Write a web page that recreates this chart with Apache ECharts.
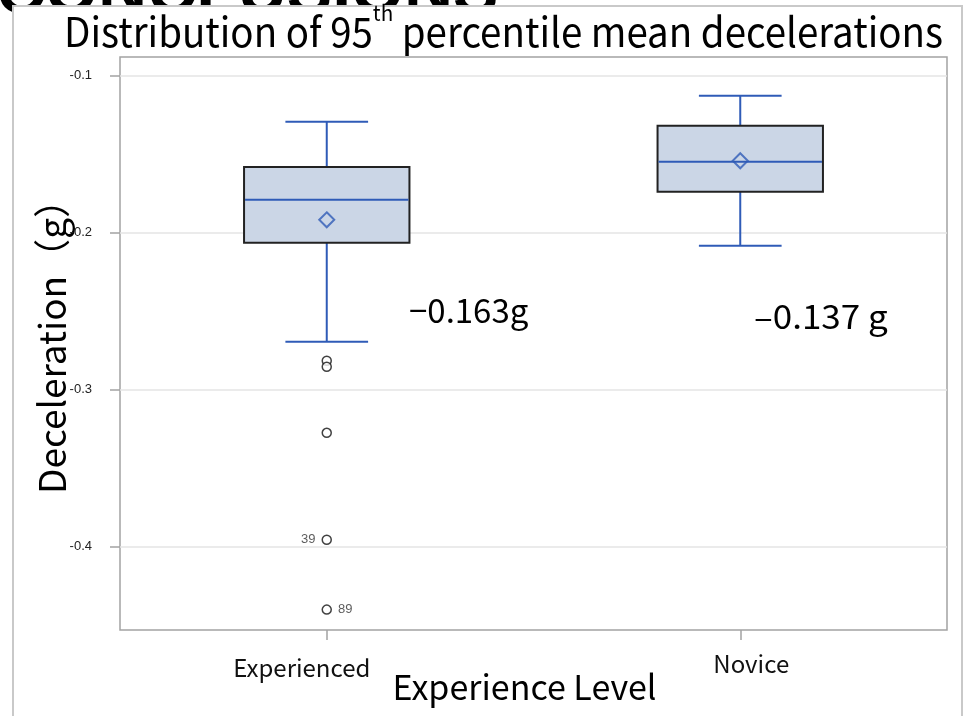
<!DOCTYPE html>
<html>
<head>
<meta charset="utf-8">
<script src="https://cdn.jsdelivr.net/npm/echarts@6/dist/echarts.min.js"></script>
<style>
  html, body { margin: 0; padding: 0; background: #fff; }
  #chart { width: 965px; height: 716px; }
</style>
</head>
<body>
<div id="chart"></div>
<script>
// Box statistics per experience group (g)
const categories = ['Experienced', 'Novice'];
const lowerWhisker = [-0.2694, -0.2083];
const lowerQuartile = [-0.2064, -0.1739];
const medians = [-0.1790, -0.1548];
const upperQuartile = [-0.1580, -0.1318];
const upperWhisker = [-0.1293, -0.1127];
const means = [-0.1917, -0.1541];

// Outlying observations (group index, value, observation id)
const outlierGroup = [0, 0, 0, 0, 0];
const outlierValues = [-0.2815, -0.2853, -0.3274, -0.3955, -0.4400];
const outlierIds = ['', '', '', '39', '89'];

// Y axis tick values
const yTicks = [-0.1, -0.2, -0.3, -0.4];

// Callout texts
const annotations = ['\u22120.163g', '\u20130.137 g'];

const BLUE = '#2f5bb7';
const BOX_FILL = '#cbd6e6';
const LABEL_FONT = 'Liberation Sans';
const TEXT_FONT = 'Noto Sans CJK JP';

const boxData = categories.map((c, i) => [
  i, lowerWhisker[i], lowerQuartile[i], medians[i], upperQuartile[i], upperWhisker[i]
]);

function renderBox(params, api) {
  const x = api.value(0);
  const band = api.size([1, 0])[0];
  const half = band * 0.2;
  const cap = band * 0.1;
  const pLow = api.coord([x, api.value(1)]);
  const pQ1 = api.coord([x, api.value(2)]);
  const pMed = api.coord([x, api.value(3)]);
  const pQ3 = api.coord([x, api.value(4)]);
  const pHigh = api.coord([x, api.value(5)]);
  const cx = pLow[0];
  const lineStyle = { stroke: BLUE, lineWidth: 2 };
  return {
    type: 'group',
    children: [
      { type: 'line', shape: { x1: cx, y1: pQ3[1], x2: cx, y2: pHigh[1] }, style: lineStyle },
      { type: 'line', shape: { x1: cx - cap, y1: pHigh[1], x2: cx + cap, y2: pHigh[1] }, style: lineStyle },
      { type: 'line', shape: { x1: cx, y1: pQ1[1], x2: cx, y2: pLow[1] }, style: lineStyle },
      { type: 'line', shape: { x1: cx - cap, y1: pLow[1], x2: cx + cap, y2: pLow[1] }, style: lineStyle },
      {
        type: 'rect',
        shape: { x: cx - half, y: pQ3[1], width: half * 2, height: pQ1[1] - pQ3[1] },
        style: { fill: BOX_FILL, stroke: '#222', lineWidth: 2 }
      },
      { type: 'line', shape: { x1: cx - half + 1, y1: pMed[1], x2: cx + half - 1, y2: pMed[1] }, style: lineStyle }
    ]
  };
}

const labelSide = { '39': 'left', '89': 'right' };
const outlierData = outlierValues.map((v, i) => {
  const id = outlierIds[i];
  return {
    value: [outlierGroup[i], v],
    label: {
      show: id !== '',
      formatter: id,
      position: labelSide[id] || 'right'
    }
  };
});

const chart = echarts.init(document.getElementById('chart'), null, { renderer: 'canvas' });

chart.setOption({
  animation: false,
  backgroundColor: '#fff',
  graphic: [
    {
      type: 'text', z: -20, left: -4, top: -40,
      style: { text: 'CONCLUSIONS', font: 'bold 68px "Liberation Sans"', fill: '#000' }
    },
    {
      type: 'rect', z: -10,
      shape: { x: 13, y: 6, width: 949, height: 730 },
      style: { fill: '#fff', stroke: '#c9c9c9', lineWidth: 2 }
    },
    {
      type: 'text', z: 5, x: 64, y: 2, scaleX: 0.938,
      style: {
        text: '{m|Distribution of 95}{s|th}{m| percentile mean decelerations}',
        fill: '#000',
        rich: {
          m: { fontSize: 41, fontFamily: TEXT_FONT, fill: '#000', verticalAlign: 'bottom', lineHeight: 50 },
          s: { fontSize: 22, fontFamily: TEXT_FONT, fill: '#000', verticalAlign: 'top', lineHeight: 50 }
        }
      }
    },
    {
      type: 'text', z: 5, x: 409, y: 310,
      style: { text: annotations[0], fontSize: 33, fontFamily: TEXT_FONT, fill: '#000', verticalAlign: 'middle' }
    },
    {
      type: 'text', z: 5, x: 754, y: 316, scaleX: 1.06,
      style: { text: annotations[1], fontSize: 33, fontFamily: TEXT_FONT, fill: '#000', verticalAlign: 'middle' }
    }
  ],
  grid: {
    left: 120, right: 18, top: 57, bottom: 86,
    outerBoundsMode: 'none',
    containLabel: false,
    show: true,
    borderColor: '#a3a3a3',
    borderWidth: 1.5,
    backgroundColor: 'rgba(0,0,0,0)'
  },
  xAxis: {
    type: 'category',
    data: categories,
    boundaryGap: true,
    axisLine: { show: false },
    axisTick: { show: true, alignWithLabel: true, length: 10, lineStyle: { color: '#a3a3a3', width: 1.5 } },
    axisLabel: {
      margin: 22,
      formatter: (v) => (v === 'Experienced' ? '{e|' + v + '}' : '{n|' + v + '}'),
      rich: {
        e: { fontSize: 24, fontFamily: TEXT_FONT, color: '#111', padding: [4, 50, 0, 0] },
        n: { fontSize: 24, fontFamily: TEXT_FONT, color: '#111', padding: [0, 0, 0, 22] }
      }
    },
    splitLine: { show: false },
    name: 'Experience Level',
    nameLocation: 'middle',
    nameMoveOverlap: false,
    nameGap: 40,
    nameTextStyle: { fontSize: 34, fontFamily: TEXT_FONT, color: '#000', padding: [0, 18, 0, 0] }
  },
  yAxis: {
    type: 'value',
    min: -0.453,
    max: -0.088,
    axisLine: { show: false },
    axisTick: { show: true, length: 10, customValues: yTicks, lineStyle: { color: '#a3a3a3', width: 1.5 } },
    axisLabel: {
      customValues: yTicks,
      formatter: (v) => v.toFixed(1),
      fontSize: 13,
      fontFamily: LABEL_FONT,
      color: '#222',
      margin: 28
    },
    splitLine: { show: true, lineStyle: { color: '#e4e4e4', width: 1.5 } },
    name: 'Deceleration\uFF08g\uFF09',
    nameLocation: 'middle',
    nameMoveOverlap: false,
    nameRotate: 90,
    nameGap: 50,
    nameTextStyle: { fontSize: 37, fontFamily: TEXT_FONT, color: '#000', padding: [0, 0, 0, 12] }
  },
  series: [
    {
      type: 'custom',
      name: 'box',
      data: boxData,
      renderItem: renderBox,
      z: 2,
      silent: true
    },
    {
      type: 'scatter',
      name: 'mean',
      data: means.map((m, i) => [i, m]),
      symbol: 'diamond',
      symbolSize: 15,
      itemStyle: { color: 'rgba(0,0,0,0)', borderColor: BLUE, borderWidth: 2 },
      z: 3,
      silent: true
    },
    {
      type: 'scatter',
      name: 'outliers',
      data: outlierData,
      symbol: 'circle',
      symbolSize: 9,
      itemStyle: { color: '#fff', borderColor: '#111', borderWidth: 1.5 },
      label: { fontSize: 13, fontFamily: LABEL_FONT, color: '#333', distance: 6 },
      z: 3,
      silent: true
    }
  ]
});
</script>
</body>
</html>
